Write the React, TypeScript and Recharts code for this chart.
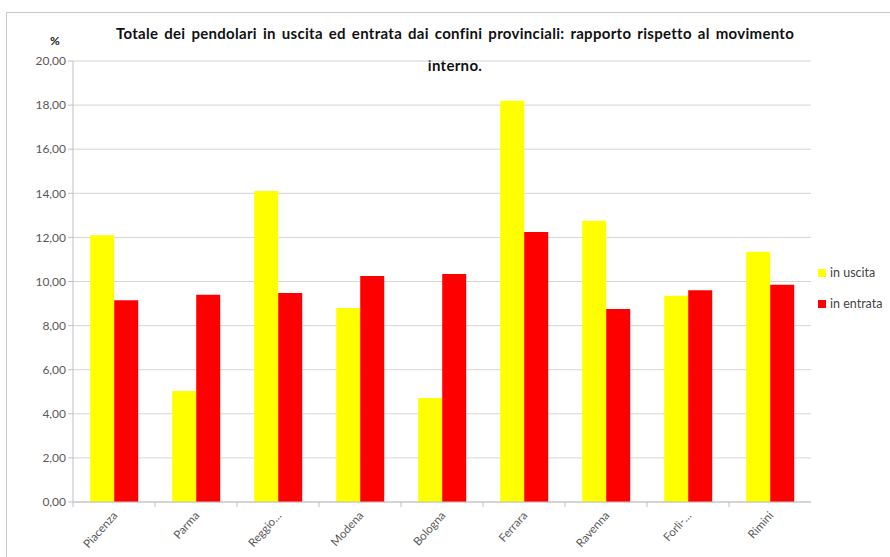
import { BarChart, Bar, XAxis, YAxis, CartesianGrid } from 'recharts'

const province = ['Piacenza', 'Parma', 'Reggio…', 'Modena', 'Bologna', 'Ferrara', 'Ravenna', 'Forlì-…', 'Rimini']
const inUscita = [12.1, 5.03, 14.1, 8.8, 4.72, 18.2, 12.75, 9.35, 11.35]
const inEntrata = [9.15, 9.4, 9.48, 10.25, 10.34, 12.25, 8.75, 9.6, 9.85]
const yTicks = [0, 2, 4, 6, 8, 10, 12, 14, 16, 18, 20]
const legendItems = [
  { label: 'in uscita', color: '#ffff00' },
  { label: 'in entrata', color: '#ff0000' },
]

const chartData = province.map((p, i) => ({
  name: p,
  uscita: inUscita[i],
  entrata: inEntrata[i],
}))

const FONT = 'Lato, "Open Sans", sans-serif'

function XTick(props: any) {
  const { x, y, payload } = props
  const off = payload.offset || 0
  return (
    <g>
      <line x1={x - off} y1={y - 8} x2={x - off} y2={y - 3} stroke="#bfbfbf" />
      <text
        x={x + 4}
        y={y + 6}
        textAnchor="end"
        transform={`rotate(-48 ${x + 4} ${y + 6})`}
        fontSize={11.5}
        fill="#595959"
        fontFamily={FONT}
      >
        {payload.value}
      </text>
    </g>
  )
}

export default function App() {
  return (
    <div
      style={{
        position: 'absolute',
        left: 0,
        top: 0,
        width: 890,
        height: 557,
        background: '#fff',
        fontFamily: FONT,
      }}
    >
      <div
        style={{
          position: 'absolute',
          left: 6,
          top: 12,
          right: 0,
          bottom: 0,
          borderLeft: '1px solid #c8c8c8',
          borderTop: '1px solid #c8c8c8',
        }}
      />
      <div
        style={{
          position: 'absolute',
          left: 60,
          width: 790,
          top: 17,
          textAlign: 'center',
          fontWeight: 700,
          fontSize: 15,
          letterSpacing: 0.3,
          wordSpacing: 2,
          lineHeight: '32px',
          color: '#111',
        }}
      >
        Totale dei pendolari in uscita ed entrata dai confini provinciali: rapporto rispetto al movimento
        <br />
        interno.
      </div>
      <div
        style={{ position: 'absolute', left: 50, top: 33, fontWeight: 700, fontSize: 12, color: '#222' }}
      >
        %
      </div>
      <div style={{ position: 'absolute', left: 818, top: 257, fontSize: 12.5, color: '#444' }}>
        {legendItems.map((it) => (
          <div key={it.label} style={{ display: 'flex', alignItems: 'center', height: 31 }}>
            <span style={{ width: 8, height: 8, background: it.color, marginRight: 4 }} />
            {it.label}
          </div>
        ))}
      </div>
      <div style={{ position: 'absolute', left: 0, top: 0 }}>
        <BarChart
          width={890}
          height={557}
          data={chartData}
          margin={{ top: 61, right: 79, bottom: 0, left: 0 }}
          barCategoryGap="21%"
          barGap={0}
        >
          <CartesianGrid vertical={false} stroke="#d4d4d4" />
          <XAxis
            dataKey="name"
            interval={0}
            tick={<XTick />}
            tickLine={false}
            axisLine={{ stroke: '#bfbfbf' }}
            height={55}
          />
          <YAxis
            width={73}
            domain={[0, 20]}
            ticks={yTicks}
            interval={0}
            tickFormatter={(v: number) => v.toFixed(2).replace('.', ',')}
            tick={{ fontSize: 12, fill: '#595959', fontFamily: FONT }}
            tickLine={{ stroke: '#bfbfbf' }}
            tickSize={5}
            axisLine={{ stroke: '#bfbfbf' }}
          />
          <Bar dataKey="uscita" name="in uscita" fill="#ffff00" isAnimationActive={false} />
          <Bar dataKey="entrata" name="in entrata" fill="#ff0000" isAnimationActive={false} />
        </BarChart>
      </div>
    </div>
  )
}
